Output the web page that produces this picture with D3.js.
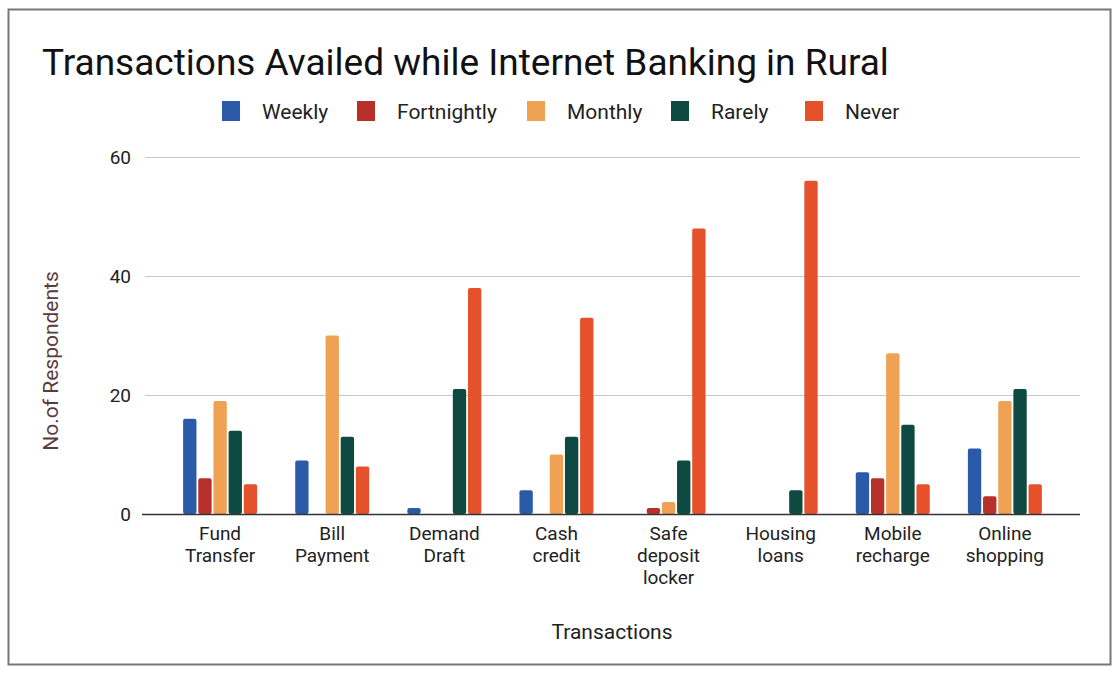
<!DOCTYPE html>
<html>
<head>
<meta charset="utf-8">
<script src="https://d3js.org/d3.v7.min.js"></script>
<style>
  body { margin: 0; background: #fff; }
  svg { font-family: Roboto, "Liberation Sans", sans-serif; }
</style>
</head>
<body>
<div id="chart"></div>
<script>
// categories and series
var categories = [
  ["Fund", "Transfer"], ["Bill", "Payment"], ["Demand", "Draft"], ["Cash", "credit"],
  ["Safe", "deposit", "locker"], ["Housing", "loans"], ["Mobile", "recharge"], ["Online", "shopping"]
];
var seriesNames = ["Weekly", "Fortnightly", "Monthly", "Rarely", "Never"];
var weekly      = [16, 9, 1, 4, 0, 0, 7, 11];
var fortnightly = [6, 0, 0, 0, 1, 0, 6, 3];
var monthly     = [19, 30, 0, 10, 2, 0, 27, 19];
var rarely      = [14, 13, 21, 13, 9, 4, 15, 21];
var never       = [5, 8, 38, 33, 48, 56, 5, 5];
var yTicks = [0, 20, 40, 60];

var colors = ["#2b5ba8", "#b8302a", "#f0a254", "#0f4a42", "#e5512b"];
var allSeries = [weekly, fortnightly, monthly, rarely, never];

var W = 1117, H = 673;
var svg = d3.select("#chart").append("svg").attr("width", W).attr("height", H);

// frame
svg.append("rect").attr("x", 8.5).attr("y", 9.5).attr("width", 1102).attr("height", 655)
  .attr("fill", "none").attr("stroke", "#777").attr("stroke-width", 2);

// title
svg.append("text").attr("x", 42).attr("y", 75)
  .attr("font-size", 37).attr("fill", "#111").text("Transactions Availed while Internet Banking in Rural");

// legend
var legX = [222, 357, 527, 671, 805];
seriesNames.forEach(function(name, i) {
  svg.append("rect").attr("x", legX[i]).attr("y", 101).attr("width", 18).attr("height", 20).attr("fill", colors[i]);
  svg.append("text").attr("x", legX[i] + 40).attr("y", 119).attr("font-size", 21).attr("fill", "#222").text(name);
});

var plotL = 145, plotR = 1080, plotT = 157, plotB = 514;

var x0 = d3.scaleBand().domain(d3.range(categories.length)).range([plotL, plotR]).paddingOuter(0.17).paddingInner(0);
var x1 = d3.scaleBand().domain(d3.range(seriesNames.length)).range([0, 74]).paddingInner(0.12);
var y = d3.scaleLinear().domain([0, 60]).range([plotB, plotT]);

// gridlines + y axis
var yAxis = svg.append("g").attr("transform", "translate(" + plotL + ",0)")
  .call(d3.axisLeft(y).tickValues(yTicks).tickSize(-(plotR - plotL)).tickPadding(14));
yAxis.select(".domain").remove();
yAxis.selectAll(".tick line").attr("stroke", "#c8c8c8");
yAxis.selectAll(".tick text").attr("font-size", 19).attr("fill", "#222").attr("font-family", "Roboto, sans-serif");

// bars
categories.forEach(function(c, ci) {
  var g = svg.append("g").attr("transform", "translate(" + (x0(ci) + (x0.bandwidth() - 74) / 2) + ",0)");
  allSeries.forEach(function(s, si) {
    if (s[ci] <= 0) return;
    g.append("rect")
      .attr("x", x1(si)).attr("width", x1.bandwidth())
      .attr("y", y(s[ci])).attr("height", y(0) - y(s[ci]))
      .attr("rx", 2)
      .attr("fill", colors[si]);
  });
});

// baseline
svg.append("line").attr("x1", plotL - 3).attr("x2", plotR).attr("y1", y(0) + 0.5).attr("y2", y(0) + 0.5)
  .attr("stroke", "#333").attr("stroke-width", 1.5);

// x labels, one text per line
categories.forEach(function(c, ci) {
  var cx = x0(ci) + x0.bandwidth() / 2;
  c.forEach(function(line, li) {
    svg.append("text").attr("text-anchor", "middle").attr("font-size", 19).attr("fill", "#222")
      .attr("x", cx).attr("y", 540 + li * 22).text(line);
  });
});

// axis titles
svg.append("text").attr("x", 612).attr("y", 639).attr("text-anchor", "middle")
  .attr("font-size", 21).attr("fill", "#222").text("Transactions");
svg.append("text").attr("transform", "translate(58,361) rotate(-90)").attr("text-anchor", "middle")
  .attr("font-size", 21).attr("fill", "#5a3b40").text("No.of Respondents");
</script>
</body>
</html>
